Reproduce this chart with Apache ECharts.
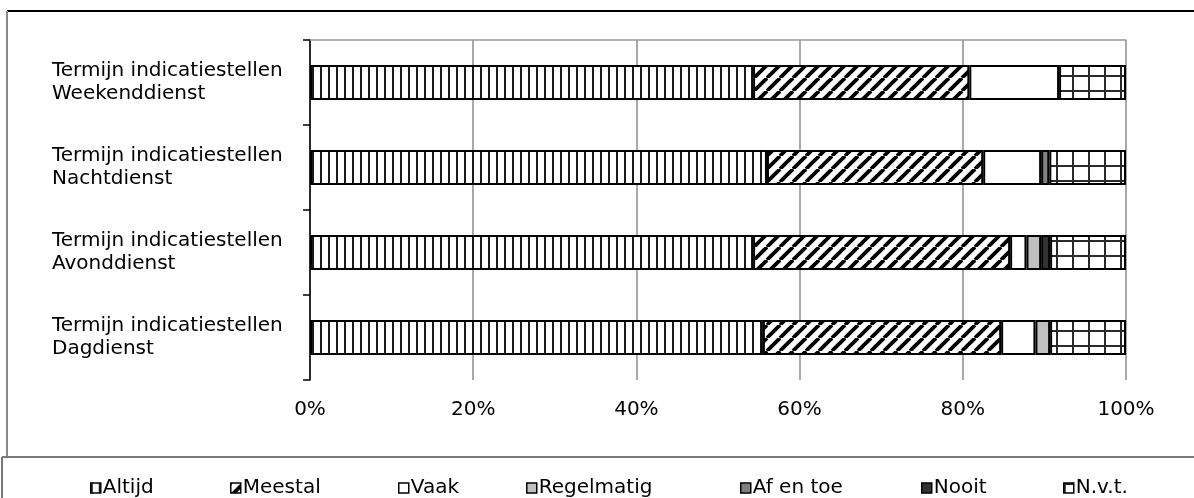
<!DOCTYPE html>
<html>
<head>
<meta charset="utf-8">
<script src="https://cdn.jsdelivr.net/npm/echarts@6/dist/echarts.min.js"></script>
<style>
html,body{margin:0;padding:0;background:#fff;}
#chart{width:1194px;height:498px;}
</style>
</head>
<body>
<div id="chart"></div>
<script>
// ---- data (categories listed bottom to top) ----
const categories = [
  'Termijn indicatiestellen\nDagdienst',
  'Termijn indicatiestellen\nAvonddienst',
  'Termijn indicatiestellen\nNachtdienst',
  'Termijn indicatiestellen\nWeekenddienst'
];
const seriesNames = ['Altijd', 'Meestal', 'Vaak', 'Regelmatig', 'Af en toe', 'Nooit', 'N.v.t.'];
const altijd     = [55.5, 54.3, 56.0, 54.3];
const meestal    = [29.2, 31.5, 26.5, 26.5];
const vaak       = [4.2, 2.0, 7.1, 11.0];
const regelmatig = [1.8, 1.8, 0, 0];
const afEnToe    = [0, 0, 1.0, 0];
const nooit      = [0, 1.1, 0, 0];
const nvt        = [9.3, 9.3, 9.4, 8.2];
const xTicks = [0, 20, 40, 60, 80, 100];

// ---- patterns ----
function makeCanvas(w, h, draw) {
  const c = document.createElement('canvas');
  c.width = w; c.height = h;
  const ctx = c.getContext('2d');
  ctx.fillStyle = '#fff';
  ctx.fillRect(0, 0, w, h);
  draw(ctx, w, h);
  return c;
}
const vStripes = makeCanvas(8, 8, (ctx) => {
  ctx.fillStyle = '#1a1a1a';
  ctx.fillRect(0, 0, 2, 8);
});
const diag = makeCanvas(13, 13, (ctx, w, h) => {
  ctx.strokeStyle = '#000';
  ctx.lineWidth = 3.8;
  for (let k = -1; k <= 1; k++) {
    ctx.beginPath();
    ctx.moveTo(k * w, h);
    ctx.lineTo(k * w + w, 0);
    ctx.stroke();
  }
});
const gridPat = makeCanvas(16, 15, (ctx, w, h) => {
  ctx.fillStyle = '#2a2a2a';
  ctx.fillRect(0, 0, 2, h);
  ctx.fillRect(0, 0, w, 2);
});

const fills = [
  {image: vStripes, repeat: 'repeat'},
  {image: diag, repeat: 'repeat'},
  '#ffffff',
  '#c0c0c0',
  '#808080',
  '#333333',
  {image: gridPat, repeat: 'repeat'}
];
const values = [altijd, meestal, vaak, regelmatig, afEnToe, nooit, nvt];

const FONT = 'DejaVu Sans';
const legendLefts = [85, 225, 393, 521, 735, 916, 1058];

const series = seriesNames.map((name, i) => ({
  name: name,
  type: 'bar',
  stack: 'total',
  barWidth: 35,
  data: values[i].map(v => v === 0 ? null : v),
  itemStyle: {color: fills[i], borderColor: '#000', borderWidth: 2},
  emphasis: {disabled: true}
}));

const legends = seriesNames.map((name, i) => ({
  data: [name],
  left: legendLefts[i],
  top: 473,
  icon: 'rect',
  itemWidth: 10,
  itemHeight: 10,
  itemGap: 0,
  selectedMode: false,
  itemStyle: {borderColor: '#000', borderWidth: 1.5},
  textStyle: {fontFamily: FONT, fontSize: 20, color: '#000', padding: [0, 0, 0, -3]}
}));

const chart = echarts.init(document.getElementById('chart'), null, {renderer: 'canvas'});
chart.setOption({
  animation: false,
  backgroundColor: '#fff',
  grid: {left: 310, right: 68, top: 40, bottom: 118, containLabel: false},
  legend: legends,
  xAxis: [{
    type: 'value',
    min: 0, max: 100, interval: 20,
    axisLine: {show: false},
    axisTick: {show: false},
    axisLabel: {
      formatter: v => xTicks.includes(v) ? v + '%' : '',
      fontFamily: FONT, fontSize: 20, color: '#000', margin: 20
    },
    splitLine: {show: true, lineStyle: {color: '#8c8c8c', width: 1.5}}
  }, {
    type: 'value', position: 'top', min: 0, max: 100,
    axisLine: {show: true, lineStyle: {color: '#9a9a9a', width: 1.5}},
    axisTick: {show: false}, axisLabel: {show: false}, splitLine: {show: false}
  }],
  yAxis: {
    type: 'category',
    data: categories,
    axisLine: {show: true, lineStyle: {color: '#000', width: 1.5}},
    axisTick: {show: true, length: 7, lineStyle: {color: '#000', width: 1.5}},
    axisLabel: {
      fontFamily: FONT, fontSize: 20, color: '#000',
      align: 'left', margin: 258, lineHeight: 23
    }
  },
  series: series,
  graphic: [
    {type: 'line', shape: {x1: 7, y1: 11, x2: 1194, y2: 11}, style: {stroke: '#000', lineWidth: 2}, silent: true},
    {type: 'line', shape: {x1: 7, y1: 11, x2: 7, y2: 456}, style: {stroke: '#8a8a8a', lineWidth: 2}, silent: true},
    {type: 'line', shape: {x1: 2, y1: 457, x2: 1194, y2: 457}, style: {stroke: '#7a7a7a', lineWidth: 2}, silent: true},
    {type: 'line', shape: {x1: 2, y1: 457, x2: 2, y2: 498}, style: {stroke: '#7a7a7a', lineWidth: 2}, silent: true}
  ]
});
</script>
</body>
</html>
